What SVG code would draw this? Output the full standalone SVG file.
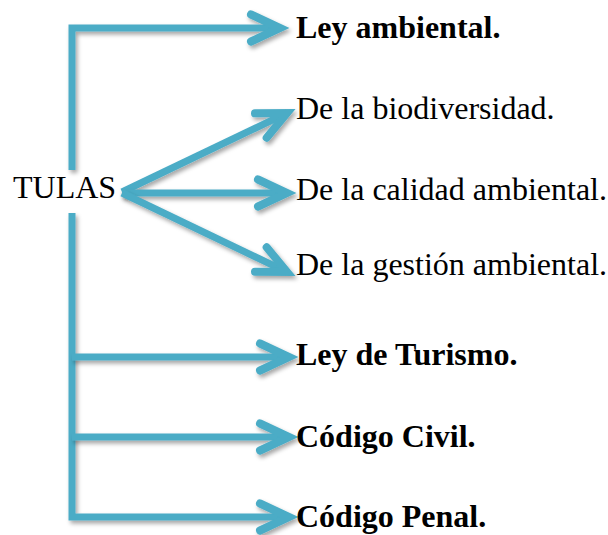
<svg xmlns="http://www.w3.org/2000/svg" width="608" height="535" viewBox="0 0 608 535">
<style>
.c{fill:none;stroke:#4BACC6;stroke-width:7;stroke-linejoin:miter;filter:url(#sh)}
.t{font-family:"Liberation Serif","Times New Roman",serif;font-size:32px;fill:#000}
.b{font-weight:bold}
</style>
<defs>
<filter id="sh" filterUnits="userSpaceOnUse" x="0" y="0" width="608" height="535">
<feDropShadow dx="2" dy="3" stdDeviation="2" flood-color="#000" flood-opacity="0.35"/>
</filter>
<marker id="ah" markerUnits="userSpaceOnUse" viewBox="-36 -20 42 40" refX="0" refY="0" markerWidth="42" markerHeight="40" orient="auto" overflow="visible">
<path d="M-29 -13.5 L0 0 L-29 13.5" fill="none" stroke="#4BACC6" stroke-width="8" stroke-linecap="round" stroke-linejoin="miter"/>
</marker>
</defs>
<g id="connectors">
<path class="c" d="M72 170 V28 H280" marker-end="url(#ah)"/>
<path class="c" d="M122 192 L287 113" marker-end="url(#ah)"/>
<path class="c" d="M122 193 H287" marker-end="url(#ah)"/>
<path class="c" d="M122 193 L287 272" marker-end="url(#ah)"/>
<path class="c" d="M72 213 V517 H289" marker-end="url(#ah)"/>
<path class="c" d="M72 357 H289" marker-end="url(#ah)"/>
<path class="c" d="M72 437 H289" marker-end="url(#ah)"/>
</g>
<g id="tulas"><text class="t" x="13" y="198">TULAS</text></g>
<g id="ley-ambiental"><text class="t b" x="296" y="38">Ley ambiental.</text></g>
<g id="biodiversidad"><text class="t" x="296" y="119">De la biodiversidad.</text></g>
<g id="calidad"><text class="t" x="296" y="200">De la calidad ambiental.</text></g>
<g id="gestion"><text class="t" x="296" y="275">De la gestión ambiental.</text></g>
<g id="turismo"><text class="t b" x="296" y="365">Ley de Turismo.</text></g>
<g id="civil"><text class="t b" x="296" y="447">Código Civil.</text></g>
<g id="penal"><text class="t b" x="296" y="527">Código Penal.</text></g>
</svg>
